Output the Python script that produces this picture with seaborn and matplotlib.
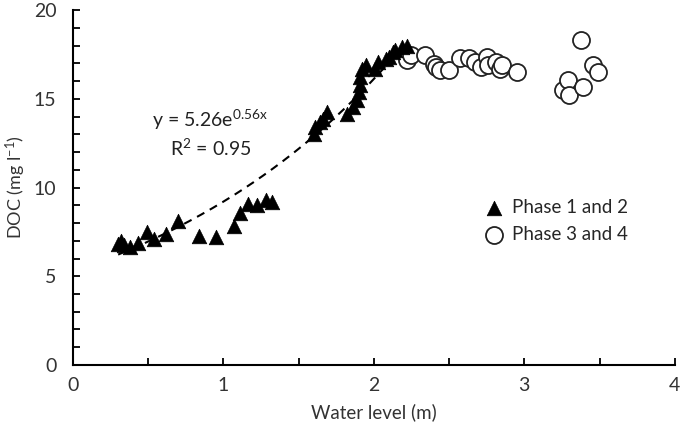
import numpy as np
import pandas as pd
import seaborn as sns
import matplotlib.pyplot as plt

# Phase 1 and 2 (triangles)
p12_level = [0.30, 0.32, 0.34, 0.38, 0.43, 0.49, 0.54, 0.62, 0.70, 0.84, 0.95,
             1.07, 1.11, 1.16, 1.22, 1.28, 1.32,
             1.60, 1.61, 1.64, 1.66, 1.69, 1.82, 1.86, 1.89, 1.90, 1.91, 1.91,
             1.92, 1.95, 2.01, 2.03, 2.08, 2.10, 2.13, 2.14, 2.19, 2.22]
p12_doc = [6.80, 6.98, 6.74, 6.66, 6.89, 7.49, 7.12, 7.36, 8.11, 7.27, 7.21,
           7.83, 8.55, 9.06, 9.00, 9.30, 9.19,
           13.02, 13.40, 13.69, 13.87, 14.25, 14.16, 14.53, 14.91, 15.38, 15.76, 16.23,
           16.70, 16.89, 16.70, 17.08, 17.27, 17.37, 17.65, 17.75, 17.93, 18.00]

# Phase 3 and 4 (open circles)
p34_level = [2.22, 2.25, 2.34, 2.40, 2.41, 2.44, 2.50, 2.57, 2.63, 2.67, 2.71,
             2.75, 2.76, 2.81, 2.84, 2.85, 2.95,
             3.26, 3.29, 3.30, 3.38, 3.39, 3.46, 3.49]
p34_doc = [17.19, 17.46, 17.46, 16.99, 16.80, 16.61, 16.61, 17.30, 17.30, 17.08, 16.80,
           17.37, 16.89, 17.08, 16.70, 16.89, 16.51,
           15.48, 16.04, 15.19, 18.31, 15.66, 16.93, 16.51]

# exponential fit reported on the chart
fit_a, fit_b = 5.26, 0.56

sns.set_style("ticks")
plt.rcParams['font.family'] = ['Lato', 'DejaVu Sans']
plt.rcParams['mathtext.fontset'] = 'custom'
plt.rcParams['mathtext.rm'] = 'Lato'
plt.rcParams['mathtext.it'] = 'Lato:italic'

df12 = pd.DataFrame({'level': p12_level, 'doc': p12_doc})
df34 = pd.DataFrame({'level': p34_level, 'doc': p34_doc})

fig = plt.figure(figsize=(6.85, 4.40), dpi=100)
ax = fig.add_axes([0.1066, 0.1705, 0.8784, 0.8065])

xs = np.linspace(min(p12_level), max(p12_level), 200)
ax.plot(xs, fit_a * np.exp(fit_b * xs), color='black', linestyle=(0, (4, 3)),
        linewidth=1.5, zorder=1)

sns.scatterplot(data=df12, x='level', y='doc', marker='^', color='black',
                edgecolor='black', s=110, linewidth=0.5, ax=ax,
                label='Phase 1 and 2', zorder=3)
sns.scatterplot(data=df34, x='level', y='doc', marker='o', facecolor='white',
                edgecolor='#222222', s=150, linewidth=1.3, ax=ax,
                label='Phase 3 and 4', zorder=2)

ax.set_xlim(0, 4)
ax.set_ylim(0, 20)
ax.set_xticks([0, 1, 2, 3, 4])
ax.set_xticks(np.arange(0, 4.01, 0.5), minor=True)
ax.set_yticks([0, 5, 10, 15, 20])
ax.set_yticks(np.arange(0, 20.01, 1), minor=True)
ax.tick_params(which='both', direction='in', length=5, width=1.3, color='black',
               labelsize=14, labelcolor='#333333')
ax.tick_params(axis='x', pad=9)
ax.tick_params(axis='y', pad=12)
for side in ['left', 'bottom']:
    ax.spines[side].set_linewidth(1.5)
    ax.spines[side].set_color('black')
sns.despine(ax=ax)

ax.set_xlabel('Water level (m)', fontsize=13.5, color='#333333', labelpad=6)
ax.set_ylabel('DOC (mg l$^{-1}$)', fontsize=13, color='#333333', labelpad=4)

ax.text(0.228, 0.69, 'y = 5.26e$^{\\mathrm{0.56x}}$', transform=ax.transAxes,
        fontsize=14, color='#222222', ha='center', va='center')
ax.text(0.228, 0.612, 'R$^2$ = 0.95', transform=ax.transAxes,
        fontsize=14, color='#222222', ha='center', va='center')

leg = ax.legend(loc='upper left', bbox_to_anchor=(0.64, 0.515), frameon=False,
                fontsize=13.5, handletextpad=0.0, labelspacing=0.55, markerscale=1.0)

fig.savefig('out.png', dpi=100)
